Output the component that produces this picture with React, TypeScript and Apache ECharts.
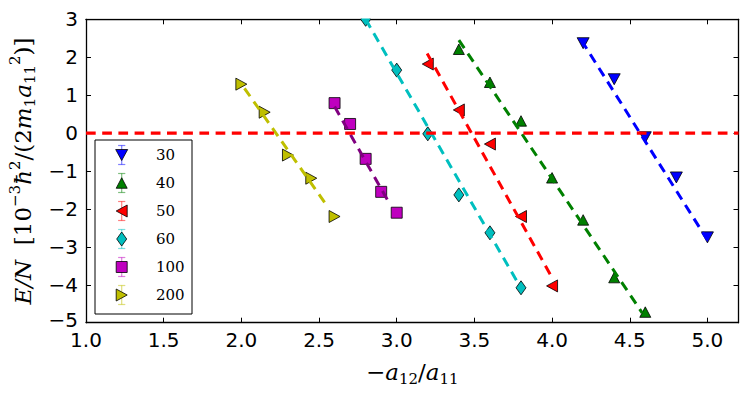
import React, { useEffect, useRef } from "react";
import * as echarts from "echarts";

// ---- data ----
const seriesNames = ["30", "40", "50", "60", "100", "200"];

const x30 = [4.2, 4.4, 4.6, 4.8, 5.0];
const y30 = [2.37, 1.42, -0.11, -1.17, -2.75];
const x40 = [3.4, 3.6, 3.8, 4.0, 4.2, 4.4, 4.6];
const y40 = [2.21, 1.34, 0.32, -1.18, -2.29, -3.81, -4.72];
const x50 = [3.2, 3.4, 3.6, 3.8, 4.0];
const y50 = [1.82, 0.61, -0.29, -2.2, -4.03];
const x60 = [2.8, 3.0, 3.2, 3.4, 3.6, 3.8];
const y60 = [3.0, 1.66, -0.02, -1.63, -2.63, -4.08];
const x100 = [2.6, 2.7, 2.8, 2.9, 3.0];
const y100 = [0.79, 0.24, -0.68, -1.55, -2.1];
const x200 = [2.0, 2.15, 2.3, 2.45, 2.6];
const y200 = [1.29, 0.55, -0.58, -1.19, -2.2];

// dashed fit lines (start, end)
const fit30X = [4.19, 5.0];
const fit30Y = [2.44, -2.82];
const fit40X = [3.4, 4.58];
const fit40Y = [2.45, -4.74];
const fit50X = [3.196, 3.99];
const fit50Y = [2.1, -3.74];
const fit60X = [2.8, 3.78];
const fit60Y = [3.0, -3.95];
const fit100X = [2.6, 2.94];
const fit100Y = [0.7, -1.76];
const fit200X = [2.02, 2.54];
const fit200Y = [1.18, -1.85];

const zeroLineX = [1.0, 5.2];
const zeroLineY = [0, 0];

const xMin = 1.0;
const xMax = 5.2;
const xStep = 0.5;
const yMin = -5;
const yMax = 3;
const yStep = 1;

// ---- styling ----
const markerColors = ["#0000ff", "#008000", "#ff0000", "#00bfbf", "#bf00bf", "#bfbf00"];
const fitColors = ["#0000ff", "#008000", "#ff0000", "#00bfbf", "#800080", "#bfbf00"];
const markerKinds = ["down", "up", "left", "diamond", "square", "right"];

const symbolFor: Record<string, string> = {
  down: "path://M0,0 L10,0 L5,10 Z",
  up: "path://M5,0 L10,10 L0,10 Z",
  left: "path://M0,5 L10,0 L10,10 Z",
  right: "path://M0,0 L10,5 L0,10 Z",
  diamond: "diamond",
  square: "rect",
};
const sizeFor: Record<string, number[]> = {
  down: [12, 11],
  up: [11, 10.5],
  left: [11, 12],
  right: [11, 12],
  diamond: [10, 14],
  square: [11, 11],
};

const xsAll = [x30, x40, x50, x60, x100, x200];
const ysAll = [y30, y40, y50, y60, y100, y200];
const fitXs = [fit30X, fit40X, fit50X, fit60X, fit100X, fit200X];
const fitYs = [fit30Y, fit40Y, fit50Y, fit60Y, fit100Y, fit200Y];

const DASH = [9.7, 6.5];
const GRID = { left: 86, right: 8.5, top: 19.3, bottom: 71.3 };

function legendMarker(kind: string, cx: number, cy: number, color: string): any {
  const [w, h] = sizeFor[kind];
  const style = { fill: color, stroke: "#000", lineWidth: 0.8 };
  let pts: number[][] = [];
  if (kind === "down") pts = [[cx - w / 2, cy - h / 2], [cx + w / 2, cy - h / 2], [cx, cy + h / 2]];
  else if (kind === "up") pts = [[cx, cy - h / 2], [cx + w / 2, cy + h / 2], [cx - w / 2, cy + h / 2]];
  else if (kind === "left") pts = [[cx - w / 2, cy], [cx + w / 2, cy - h / 2], [cx + w / 2, cy + h / 2]];
  else if (kind === "right") pts = [[cx - w / 2, cy - h / 2], [cx + w / 2, cy], [cx - w / 2, cy + h / 2]];
  else if (kind === "diamond") pts = [[cx, cy - h / 2], [cx + w / 2, cy], [cx, cy + h / 2], [cx - w / 2, cy]];
  if (kind === "square") {
    return { type: "rect", shape: { x: cx - w / 2, y: cy - h / 2, width: w, height: h }, style, z: 62 };
  }
  return { type: "polygon", shape: { points: pts }, style, z: 62 };
}

function buildLegend(): any[] {
  const els: any[] = [];
  const boxX = 95, boxY = 140, boxW = 97, boxH = 174;
  els.push({
    type: "rect",
    shape: { x: boxX, y: boxY, width: boxW, height: boxH },
    style: { fill: "#fff", stroke: "#000", lineWidth: 1 },
    z: 60,
  });
  const mx = 121.7;
  seriesNames.forEach((name, i) => {
    const cy = 155 + i * 28;
    const c = markerColors[i];
    const eb = { stroke: c, lineWidth: 1.2, opacity: 0.5 };
    els.push({ type: "line", shape: { x1: mx, y1: cy - 9.5, x2: mx, y2: cy + 9.5 }, style: eb, z: 61 });
    els.push({ type: "line", shape: { x1: mx - 3.6, y1: cy - 9.5, x2: mx + 3.6, y2: cy - 9.5 }, style: eb, z: 61 });
    els.push({ type: "line", shape: { x1: mx - 3.6, y1: cy + 9.5, x2: mx + 3.6, y2: cy + 9.5 }, style: eb, z: 61 });
    els.push(legendMarker(markerKinds[i], mx, cy, c));
    els.push({
      type: "text",
      x: 156,
      y: cy,
      style: {
        text: name,
        fill: "#000",
        font: "15px 'DejaVu Serif'",
        textAlign: "left",
        textVerticalAlign: "middle",
      },
      z: 63,
    });
  });
  return els;
}

const minus = (s: string) => s.replace("-", "\u2212");

export default function App() {
  const ref = useRef<HTMLDivElement>(null);

  useEffect(() => {
    if (!ref.current) return;
    const chart = echarts.init(ref.current, undefined, { renderer: "svg" });

    const scatterSeries = seriesNames.map((name, i) => ({
      name,
      type: "scatter",
      xAxisIndex: 0,
      yAxisIndex: 0,
      data: xsAll[i].map((x, j) => [x, ysAll[i][j]]),
      symbol: symbolFor[markerKinds[i]],
      symbolSize: sizeFor[markerKinds[i]],
      itemStyle: { color: markerColors[i], borderColor: "#000", borderWidth: 0.8, opacity: 1 },
      z: 3,
      silent: true,
    }));

    const fitSeries = seriesNames.map((name, i) => ({
      name: name + " fit",
      type: "line",
      data: fitXs[i].map((x, j) => [x, fitYs[i][j]]),
      showSymbol: false,
      symbol: "none",
      lineStyle: { color: fitColors[i], width: 3, type: DASH, cap: "butt" },
      z: 4,
      silent: true,
    }));

    const zeroSeries = {
      name: "zero",
      type: "line",
      data: zeroLineX.map((x, j) => [x, zeroLineY[j]]),
      showSymbol: false,
      symbol: "none",
      lineStyle: { color: "#ff0000", width: 3.2, type: DASH, cap: "butt" },
      z: 5,
      silent: true,
    };

    const tickFont = { fontFamily: "DejaVu Sans", fontSize: 20, color: "#000" };
    const axisLine = { show: true, onZero: false, lineStyle: { color: "#000", width: 1.3 } };
    const axisTick = { show: true, inside: true, length: 5, lineStyle: { color: "#000", width: 1 } };

    const rich = {
      i: { fontFamily: "DejaVu Serif", fontStyle: "italic", fontSize: 23, lineHeight: 30 },
      n: { fontFamily: "DejaVu Serif", fontSize: 23, lineHeight: 30 },
      sup: { fontFamily: "DejaVu Serif", fontSize: 15, lineHeight: 15, verticalAlign: "top" },
      sub: { fontFamily: "DejaVu Serif", fontSize: 15, lineHeight: 15, verticalAlign: "bottom" },
    };

    const option: any = {
      animation: false,
      backgroundColor: "#fff",
      grid: { ...GRID, containLabel: false, outerBoundsMode: "none" },
      xAxis: [
        {
          type: "value",
          min: xMin,
          max: xMax,
          interval: xStep,
          position: "bottom",
          axisLine,
          axisTick,
          splitLine: { show: false },
          axisLabel: {
            ...tickFont,
            lineHeight: 16,
            margin: 9,
            showMaxLabel: false,
            formatter: (v: number) => (Math.abs(v - xMax) < 1e-6 ? "" : v.toFixed(1)),
          },
          name: "{n|\u2212}{i|a}{sub|12}{n|/}{i|a}{sub|11}",
          nameLocation: "middle",
          nameGap: 34,
          nameTextStyle: { color: "#000", rich },
        },
        {
          type: "value",
          min: xMin,
          max: xMax,
          interval: xStep,
          position: "top",
          axisLine,
          axisTick,
          splitLine: { show: false },
          axisLabel: { show: false },
        },
      ],
      yAxis: [
        {
          type: "value",
          min: yMin,
          max: yMax,
          interval: yStep,
          position: "left",
          axisLine,
          axisTick,
          splitLine: { show: false },
          axisLabel: {
            ...tickFont,
            lineHeight: 14,
            margin: 8,
            formatter: (v: number) =>
              v === yMin ? "{lo|" + minus(String(v)) + "}" : minus(String(v)),
            rich: {
              lo: { fontFamily: "DejaVu Sans", fontSize: 20, lineHeight: 14, padding: [0, 0, 5, 0] },
            },
          },
          name:
            "{i|E/N}{n|  [10}{sup|\u22123}{i|\u0127}{sup|2}{n|/(2}{i|m}{sub|1}{i|a}{sub|11}{sup|2}{n|)]}",
          nameLocation: "middle",
          nameRotate: 90,
          nameGap: 46,
          nameTextStyle: { color: "#000", rich },
        },
        {
          type: "value",
          min: yMin,
          max: yMax,
          interval: yStep,
          position: "right",
          axisLine,
          axisTick,
          splitLine: { show: false },
          axisLabel: { show: false },
        },
      ],
      series: [...scatterSeries, ...fitSeries, zeroSeries],
      graphic: [
        {
          type: "rect",
          shape: { x: 86.6, y: 0, width: 651.4, height: 18.5 },
          style: { fill: "#fff" },
          z: 50,
          silent: true,
        },
        ...buildLegend(),
      ],
    };

    chart.setOption(option);
    return () => chart.dispose();
  }, []);

  return (
    <div
      ref={ref}
      style={{ position: "fixed", left: 0, top: 0, width: 747, height: 394, background: "#fff" }}
    />
  );
}
